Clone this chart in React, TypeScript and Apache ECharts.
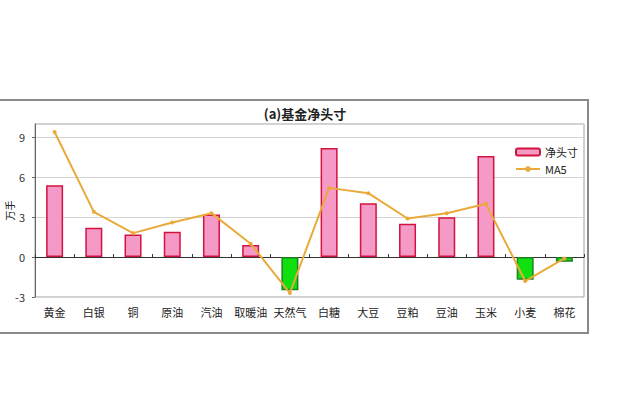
import React, { useEffect, useRef } from "react";
import * as echarts from "echarts";

const categories = ["黄金", "白银", "铜", "原油", "汽油", "取暖油", "天然气", "白糖", "大豆", "豆粕", "豆油", "玉米", "小麦", "棉花"];
const netPosition = [5.4, 2.2, 1.7, 1.9, 3.2, 0.9, -2.5, 8.2, 4.05, 2.5, 3.0, 7.6, -1.7, -0.35];
const ma5 = [9.4, 3.4, 1.8, 2.6, 3.3, 1.0, -2.7, 5.2, 4.8, 2.9, 3.3, 4.0, -1.8, -0.1];
const yTicks = { min: -3, max: 10, interval: 3 };

export default function App() {
  const ref = useRef<HTMLDivElement>(null);
  useEffect(() => {
    if (!ref.current) return;
    const chart = echarts.init(ref.current, null, { renderer: "svg" });
    chart.setOption({
      animation: false,
      backgroundColor: "#ffffff",
      textStyle: { fontFamily: "'Noto Sans CJK SC', sans-serif" },
      title: {
        text: "(a)基金净头寸",
        left: 300,
        top: 102,
        textAlign: "center",
        textStyle: { fontSize: 13, fontWeight: "bold", color: "#222", fontFamily: "'Noto Sans CJK SC', serif" },
      },
      graphic: [
        {
          type: "rect",
          shape: { x: -10, y: 100, width: 598, height: 233 },
          style: { fill: "none", stroke: "#8a8a8a", lineWidth: 2 },
          z: -1,
        },
      ],
      legend: {
        left: 510,
        top: 141,
        orient: "vertical",
        itemGap: 5,
        itemWidth: 24,
        itemHeight: 7,
        textStyle: { fontSize: 11, color: "#222", lineHeight: 12 },
        data: ["净头寸", "MA5"],
      },
      grid: {
        left: 35,
        top: 124,
        right: 34,
        bottom: 104,
        show: true,
        borderColor: "#a0a0a0",
        borderWidth: 1,
        outerBoundsMode: "none",
        containLabel: false,
      },
      xAxis: {
        type: "category",
        data: categories,
        axisLine: { onZero: true, lineStyle: { color: "#333", width: 1 } },
        axisTick: { show: true, inside: true, length: 3, lineStyle: { color: "#333" } },
        axisLabel: {
          interval: 0,
          fontSize: 11,
          color: "#222",
          margin: 9,
        },
        position: "bottom",
      },
      yAxis: {
        type: "value",
        min: yTicks.min,
        max: yTicks.max,
        interval: yTicks.interval,
        name: "万手",
        nameLocation: "middle",
        nameGap: 21,
        nameMoveOverlap: false,
        nameTextStyle: { fontSize: 10, color: "#222" },
        axisLine: { show: true, lineStyle: { color: "#666" } },
        axisTick: { show: true, length: 3, lineStyle: { color: "#666" } },
        axisLabel: { fontSize: 11, color: "#333", showMaxLabel: false, margin: 10 },
        splitLine: { show: true, lineStyle: { color: "#d4d4d4" } },
      },
      series: [
        {
          name: "净头寸",
          type: "bar",
          barWidth: 17,
          itemStyle: { color: "#F59AC6", borderColor: "#D3123E", borderWidth: 1.5 },
          data: netPosition.map((v) =>
            v < 0
              ? { value: v, itemStyle: { color: "#10E010", borderColor: "#208020", borderWidth: 1.5 } }
              : v
          ),
        },
        {
          name: "MA5",
          type: "line",
          data: ma5,
          symbol: "circle",
          symbolSize: 4,
          lineStyle: { color: "#EAAA3A", width: 2 },
          itemStyle: { color: "#EAAA3A" },
          z: 3,
        },
      ],
    });
    return () => chart.dispose();
  }, []);
  return (
    <div
      ref={ref}
      style={{ position: "absolute", left: 0, top: 0, width: 618, height: 401 }}
    />
  );
}
